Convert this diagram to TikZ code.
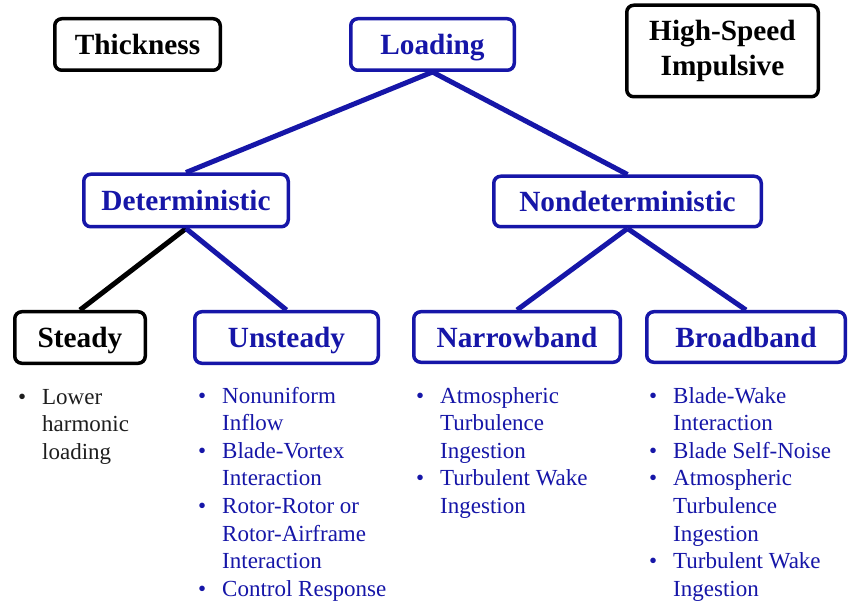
\documentclass[tikz,border=0pt]{standalone}
\usepackage{fontspec}
\setmainfont{Liberation Serif}
\usetikzlibrary{backgrounds}
\definecolor{navy}{RGB}{22,22,168}
\definecolor{inkgray}{RGB}{30,30,30}
\newcommand\itemlist[1]{\begin{tabular}[t]{@{}p{24pt}@{}l@{}}#1\end{tabular}}
\tikzset{
  box/.style={draw, rounded corners=7pt, line width=3.5pt, fill=white,
    inner sep=0pt, align=center,
    font=\fontsize{29.3}{35}\selectfont\bfseries},
  oneline/.style={text height=20pt, text depth=0pt},
  bluebox/.style={box, draw=navy, text=navy},
  blackbox/.style={box, draw=black, text=black},
  link/.style={line width=5pt, draw=navy},
  blacklink/.style={line width=5pt, draw=black},
  bulletlist/.style={anchor=base west, inner sep=0pt,
    font=\fontsize{23}{27.6}\selectfont},
}
\begin{document}
\begin{tikzpicture}[x=1pt,y=-1pt]
  \useasboundingbox (0,0) rectangle (848,609);

  % top row
  \node[blackbox, oneline, minimum width=165.5pt, minimum height=51.5pt] (thick) at (137.5,44.5) {Thickness};
  \node[bluebox, oneline, minimum width=163.5pt, minimum height=51.5pt] (load) at (432.5,44.5) {Loading};
  \node[blackbox, minimum width=191.5pt, minimum height=91.5pt] (hsi) at (722.5,51) {High-Speed\\Impulsive};

  % second row
  \node[bluebox, oneline, minimum width=204.5pt, minimum height=52.5pt] (det) at (186,200.5) {Deterministic};
  \node[bluebox, oneline, minimum width=267.5pt, minimum height=50.5pt] (nondet) at (627.5,201.5) {Nondeterministic};

  % third row
  \node[blackbox, oneline, minimum width=130.5pt, minimum height=51.5pt] (steady) at (80,337.5) {Steady};
  \node[bluebox, oneline, minimum width=183.5pt, minimum height=51.5pt] (unsteady) at (286.5,337.5) {Unsteady};
  \node[bluebox, oneline, minimum width=206.5pt, minimum height=50.5pt] (narrow) at (517,337) {Narrowband};
  \node[bluebox, oneline, minimum width=198.5pt, minimum height=50.5pt] (broad) at (746,337) {Broadband};

  % white page and tree connectors, behind the boxes
  \begin{scope}[on background layer]
    \fill[white] (0,0) rectangle (848,609);
    \draw[link] (load.south) -- (det.north);
    \draw[link] (load.south) -- (nondet.north);
    \draw[blacklink] (det.south) -- (steady.north);
    \draw[link] (det.south) -- (unsteady.north);
    \draw[link] (nondet.south) -- (narrow.north);
    \draw[link] (nondet.south) -- (broad.north);
  \end{scope}

  % bullet lists under the leaves
  \node[bulletlist, text=inkgray] (steadylist) at (18,404) {\itemlist{%
    \textbullet & Lower\\ & harmonic\\ & loading}};
  \node[bulletlist, text=navy] (unsteadylist) at (198,403) {\itemlist{%
    \textbullet & Nonuniform\\ & Inflow\\
    \textbullet & Blade-Vortex\\ & Interaction\\
    \textbullet & Rotor-Rotor or\\ & Rotor-Airframe\\ & Interaction\\
    \textbullet & Control Response}};
  \node[bulletlist, text=navy] (narrowlist) at (416,403) {\itemlist{%
    \textbullet & Atmospheric\\ & Turbulence\\ & Ingestion\\
    \textbullet & Turbulent Wake\\ & Ingestion}};
  \node[bulletlist, text=navy] (broadlist) at (649,403) {\itemlist{%
    \textbullet & Blade-Wake\\ & Interaction\\
    \textbullet & Blade Self-Noise\\
    \textbullet & Atmospheric\\ & Turbulence\\ & Ingestion\\
    \textbullet & Turbulent Wake\\ & Ingestion}};
\end{tikzpicture}
\end{document}
